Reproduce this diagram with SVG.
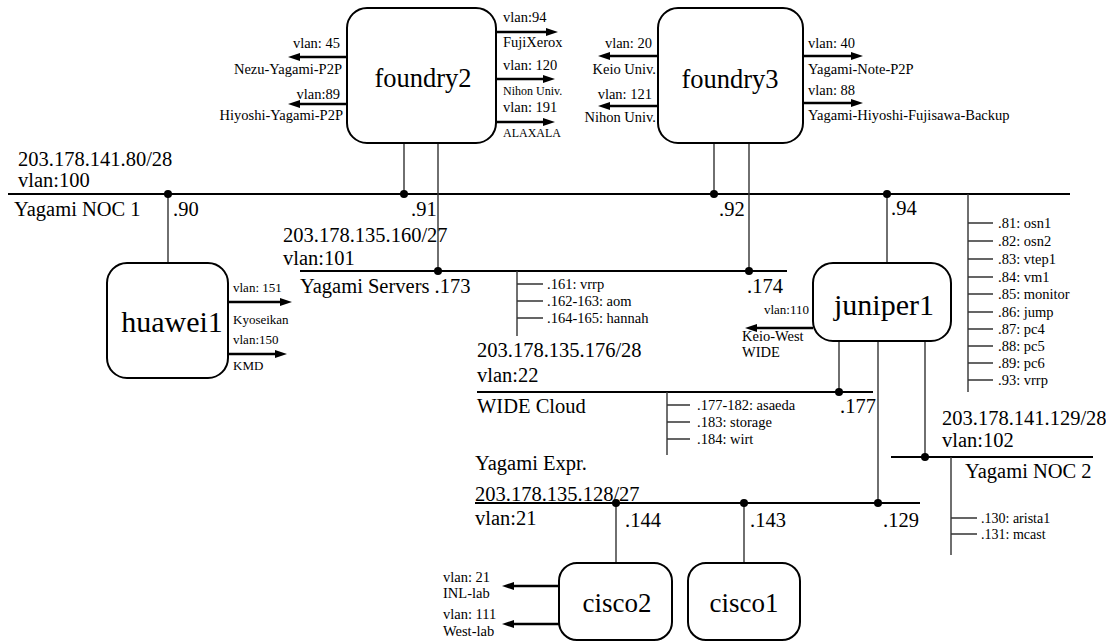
<svg xmlns="http://www.w3.org/2000/svg" width="1106" height="642" viewBox="0 0 1106 642">
<style>
text{font-family:"Liberation Serif","Times New Roman",serif;fill:#000}
.big{font-size:20.5px}
.node{font-size:26.5px}
.dev{font-size:30px}
.m{font-size:14.5px}
.s{font-size:12px}
.h{font-size:13px}
.l{font-size:14.5px}
.box{fill:#fff;stroke:#000;stroke-width:2}
.bus{stroke:#000;stroke-width:2.2;fill:none}
.con{stroke:#333;stroke-width:1.4;fill:none}
.arr{stroke:#000;stroke-width:2.6;fill:none;marker-end:url(#ah)}
.dot{fill:#000}
</style>
<defs>
<marker id="ah" viewBox="0 0 12 10" refX="6" refY="5" markerWidth="12" markerHeight="10" markerUnits="userSpaceOnUse" orient="auto">
<path d="M0,1 L12,5 L0,9 z" fill="#000"/>
</marker>
</defs>

<g id="connectors">
<line class="bus" x1="8" y1="194" x2="1070" y2="194"/>
<line class="bus" x1="300" y1="271" x2="787" y2="271"/>
<line class="bus" x1="477" y1="392" x2="873" y2="392"/>
<line class="bus" x1="891" y1="457" x2="1093" y2="457"/>
<line class="bus" x1="475" y1="503" x2="920" y2="503"/>

<line class="con" x1="168" y1="194" x2="168" y2="263"/>
<line class="con" x1="404" y1="143" x2="404" y2="194"/>
<line class="con" x1="438" y1="143" x2="438" y2="271"/>
<line class="con" x1="714" y1="143" x2="714" y2="194"/>
<line class="con" x1="749" y1="143" x2="749" y2="271"/>
<line class="con" x1="887" y1="194" x2="887" y2="263"/>
<line class="con" x1="839" y1="341" x2="839" y2="392"/>
<line class="con" x1="878" y1="341" x2="878" y2="503"/>
<line class="con" x1="925" y1="341" x2="925" y2="457"/>
<line class="con" x1="616" y1="503" x2="616" y2="563"/>
<line class="con" x1="744" y1="503" x2="744" y2="563"/>

<path class="con" d="M517,271 V336 M517,284 H543 M517,301 H543 M517,318 H543"/>
<path class="con" d="M667,392 V455 M667,405 H690 M667,422 H690 M667,439 H690"/>
<path class="con" d="M968,194 V392 M968,223 H993 M968,241 H993 M968,259 H993 M968,277 H993 M968,294 H993 M968,312 H993 M968,329 H993 M968,346 H993 M968,363 H993 M968,380 H993"/>
<path class="con" d="M951,457 V555 M951,518 H977 M951,534 H977"/>

<circle class="dot" cx="168" cy="194" r="4"/>
<circle class="dot" cx="404" cy="194" r="4"/>
<circle class="dot" cx="714" cy="194" r="4"/>
<circle class="dot" cx="887" cy="194" r="4"/>
<circle class="dot" cx="438" cy="271" r="4"/>
<circle class="dot" cx="749" cy="271" r="4"/>
<circle class="dot" cx="839" cy="392" r="4"/>
<circle class="dot" cx="925" cy="457" r="4"/>
<circle class="dot" cx="616" cy="503" r="4"/>
<circle class="dot" cx="744" cy="503" r="4"/>
<circle class="dot" cx="878" cy="503" r="4"/>

<line class="arr" x1="496" y1="32" x2="552" y2="32"/>
<line class="arr" x1="496" y1="79" x2="549" y2="79"/>
<line class="arr" x1="496" y1="122" x2="549" y2="122"/>
<line class="arr" x1="347" y1="57" x2="294" y2="57"/>
<line class="arr" x1="347" y1="104" x2="294" y2="104"/>
<line class="arr" x1="658" y1="56" x2="604" y2="56"/>
<line class="arr" x1="658" y1="106" x2="604" y2="106"/>
<line class="arr" x1="803" y1="56" x2="857" y2="56"/>
<line class="arr" x1="803" y1="103" x2="857" y2="103"/>
<line class="arr" x1="228" y1="302" x2="286" y2="302"/>
<line class="arr" x1="228" y1="354" x2="281" y2="354"/>
<line class="arr" x1="813" y1="328" x2="751" y2="328"/>
<line class="arr" x1="559" y1="586" x2="508" y2="586"/>
<line class="arr" x1="559" y1="624" x2="508" y2="624"/>
</g>

<g id="net-labels">
<text class="big" x="18" y="166">203.178.141.80/28</text>
<text class="big" x="18" y="187">vlan:100</text>
<text class="big" x="14" y="216">Yagami NOC 1</text>
<text class="big" x="173" y="216">.90</text>
<text class="big" x="411" y="216">.91</text>
<text class="big" x="719" y="216">.92</text>
<text class="big" x="891" y="215">.94</text>

<text class="big" x="283" y="242">203.178.135.160/27</text>
<text class="big" x="283" y="265">vlan:101</text>
<text class="big" x="300" y="293">Yagami Servers .173</text>
<text class="big" x="747" y="293">.174</text>
<text class="l" x="547" y="289">.161: vrrp</text>
<text class="l" x="547" y="306">.162-163: aom</text>
<text class="l" x="547" y="323">.164-165: hannah</text>

<text class="big" x="477" y="357">203.178.135.176/28</text>
<text class="big" x="477" y="382">vlan:22</text>
<text class="big" x="477" y="413">WIDE Cloud</text>
<text class="big" x="840" y="413">.177</text>
<text class="l" x="697" y="410">.177-182: asaeda</text>
<text class="l" x="697" y="427">.183: storage</text>
<text class="l" x="697" y="444">.184: wirt</text>

<text class="l" x="998" y="228">.81: osn1</text>
<text class="l" x="998" y="246">.82: osn2</text>
<text class="l" x="998" y="264">.83: vtep1</text>
<text class="l" x="998" y="282">.84: vm1</text>
<text class="l" x="998" y="299">.85: monitor</text>
<text class="l" x="998" y="317">.86: jump</text>
<text class="l" x="998" y="334">.87: pc4</text>
<text class="l" x="998" y="351">.88: pc5</text>
<text class="l" x="998" y="368">.89: pc6</text>
<text class="l" x="998" y="385">.93: vrrp</text>

<text class="big" x="942" y="425">203.178.141.129/28</text>
<text class="big" x="942" y="447">vlan:102</text>
<text class="big" x="965" y="478">Yagami NOC 2</text>
<text class="h" x="981" y="523" style="font-size:14px">.130: arista1</text>
<text class="h" x="981" y="539" style="font-size:14px">.131: mcast</text>

<text class="big" x="475" y="470">Yagami Expr.</text>
<text class="big" x="475" y="501">203.178.135.128/27</text>
<text class="big" x="475" y="525">vlan:21</text>
<text class="big" x="625" y="527">.144</text>
<text class="big" x="750" y="527">.143</text>
<text class="big" x="883" y="527">.129</text>
</g>

<g id="foundry2">
<rect class="box" x="347" y="8" width="149" height="135" rx="20"/>
<text class="node" x="423" y="87" text-anchor="middle">foundry2</text>
<text class="m" x="503" y="22">vlan:94</text>
<text class="m" x="503" y="47">FujiXerox</text>
<text class="m" x="503" y="70">vlan: 120</text>
<text class="s" x="503" y="95">Nihon Univ.</text>
<text class="m" x="503" y="112">vlan: 191</text>
<text class="s" x="503" y="137">ALAXALA</text>
<text class="m" x="340" y="48" text-anchor="end">vlan: 45</text>
<text class="m" x="342" y="74" text-anchor="end">Nezu-Yagami-P2P</text>
<text class="m" x="340" y="99" text-anchor="end">vlan:89</text>
<text class="m" x="343" y="120" text-anchor="end">Hiyoshi-Yagami-P2P</text>
</g>

<g id="foundry3">
<rect class="box" x="658" y="8" width="145" height="135" rx="20"/>
<text class="node" x="730" y="88" text-anchor="middle">foundry3</text>
<text class="m" x="652" y="48" text-anchor="end">vlan: 20</text>
<text class="m" x="656" y="74" text-anchor="end">Keio Univ.</text>
<text class="m" x="652" y="99" text-anchor="end">vlan: 121</text>
<text class="m" x="656" y="122" text-anchor="end">Nihon Univ.</text>
<text class="m" x="808" y="48">vlan: 40</text>
<text class="m" x="808" y="74">Yagami-Note-P2P</text>
<text class="m" x="808" y="95">vlan: 88</text>
<text class="m" x="808" y="120">Yagami-Hiyoshi-Fujisawa-Backup</text>
</g>

<g id="huawei1">
<rect class="box" x="107" y="263" width="121" height="115" rx="20"/>
<text class="dev" x="172" y="332" text-anchor="middle">huawei1</text>
<text class="h" x="233" y="292">vlan: 151</text>
<text class="h" x="233" y="324">Kyoseikan</text>
<text class="h" x="233" y="344">vlan:150</text>
<text class="h" x="233" y="370">KMD</text>
</g>

<g id="juniper1">
<rect class="box" x="813" y="263" width="138" height="78" rx="20"/>
<text class="dev" x="884" y="315" text-anchor="middle">juniper1</text>
<text class="h" x="809" y="314" text-anchor="end">vlan:110</text>
<text class="l" x="742" y="341">Keio-West</text>
<text class="l" x="742" y="357">WIDE</text>
</g>

<g id="cisco2">
<rect class="box" x="559" y="563" width="113" height="77" rx="18"/>
<text class="node" x="617" y="612" text-anchor="middle" style="font-size:27px">cisco2</text>
<text class="l" x="443" y="582">vlan: 21</text>
<text class="l" x="443" y="598">INL-lab</text>
<text class="l" x="443" y="619">vlan: 111</text>
<text class="l" x="443" y="636">West-lab</text>
</g>

<g id="cisco1">
<rect class="box" x="688" y="563" width="112" height="77" rx="18"/>
<text class="node" x="744" y="612" text-anchor="middle" style="font-size:27px">cisco1</text>
</g>
</svg>
